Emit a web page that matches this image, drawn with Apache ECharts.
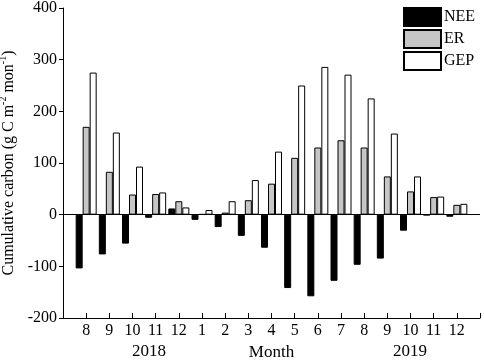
<!DOCTYPE html>
<html>
<head>
<meta charset="utf-8">
<script src="https://cdn.jsdelivr.net/npm/echarts@6/dist/echarts.min.js"></script>
<style>
  html, body { margin: 0; padding: 0; background: #fff; }
  #chart { width: 484px; height: 364px; }
</style>
</head>
<body>
<div id="chart"></div>
<script>
// months Aug 2018 .. Dec 2019, padded with empty slots at both ends
const months = ['8', '9', '10', '11', '12', '1', '2', '3', '4', '5', '6', '7', '8', '9', '10', '11', '12']
const nee = [-104, -77, -56, -6, 12, -10, -24, -41, -64, -142, -158, -128, -97, -85, -31, -1, -4]
const er = [170, 83, 39, 40, 26, 1, 4, 28, 60, 110, 130, 144, 130, 74, 45, 34, 19]
const gep = [275, 159, 93, 43, 14, 9, 26, 67, 122, 250, 286, 271, 225, 157, 74, 35, 21]
const yTicks = [-200, -100, 0, 100, 200, 300, 400]

const font = 'Liberation Serif'
const pad = arr => [null, ...arr, null]

const chart = echarts.init(document.getElementById('chart'))
const option = {
  backgroundColor: '#fff',
  animation: false,
  textStyle: { fontFamily: font },
  grid: { left: 63, right: 4, top: 8, bottom: 46, containLabel: false, outerBoundsMode: 'none' },
  legend: {
    orient: 'vertical',
    left: 398,
    top: 2,
    icon: 'rect',
    itemWidth: 37,
    itemHeight: 18,
    itemGap: 2,
    textStyle: { fontFamily: font, fontSize: 16, color: '#000', padding: [0, 0, 0, -2] },
    data: ['NEE', 'ER', 'GEP']
  },
  xAxis: {
    type: 'category',
    boundaryGap: false,
    data: ['', ...months, ''],
    name: 'Month',
    nameLocation: 'middle',
    nameGap: 25,
    nameTextStyle: { fontFamily: font, fontSize: 17, color: '#000', verticalAlign: 'top' },
    axisLine: { onZero: false, lineStyle: { color: '#000', width: 1 } },
    axisTick: {
      inside: true,
      length: 5,
      interval: (i) => i > 0,
      lineStyle: { color: '#000' }
    },
    axisLabel: { interval: 0, margin: 5, fontFamily: font, fontSize: 16, color: '#000' },
    splitLine: { show: false }
  },
  yAxis: {
    type: 'value',
    min: yTicks[0],
    max: yTicks[yTicks.length - 1],
    interval: 100,
    name: '{a|Cumulative carbon (g C m}{s|-2}{a| mon}{s|-1}{a|)}',
    nameLocation: 'middle',
    nameRotate: 90,
    nameGap: 45,
    nameTextStyle: {
      rich: {
        a: { fontFamily: font, fontSize: 16, color: '#000', verticalAlign: 'bottom', lineHeight: 18 },
        s: { fontFamily: font, fontSize: 10, color: '#000', verticalAlign: 'top', lineHeight: 18 }
      }
    },
    axisLine: { show: true, lineStyle: { color: '#000', width: 1 } },
    axisTick: { show: true, inside: false, length: 4, lineStyle: { color: '#000' } },
    axisLabel: { margin: 6, fontFamily: font, fontSize: 16, color: '#000' },
    splitLine: { show: false }
  },
  graphic: [
    { type: 'text', left: 132, top: 343, style: { text: '2018', font: '17px "Liberation Serif"', fill: '#000' } },
    { type: 'text', left: 393, top: 343, style: { text: '2019', font: '17px "Liberation Serif"', fill: '#000' } }
  ],
  series: [
    {
      name: 'NEE',
      type: 'bar',
      barWidth: 7,
      barGap: '0%',
      itemStyle: { color: '#000', borderColor: '#000', borderWidth: 1 },
      data: pad(nee),
      markLine: {
        silent: true,
        symbol: 'none',
        label: { show: false },
        lineStyle: { color: '#000', width: 1, type: 'solid' },
        data: [{ yAxis: 0 }]
      }
    },
    {
      name: 'ER',
      type: 'bar',
      barWidth: 7,
      barGap: '0%',
      itemStyle: { color: '#c6c6c6', borderColor: '#000', borderWidth: 1 },
      data: pad(er)
    },
    {
      name: 'GEP',
      type: 'bar',
      barWidth: 7,
      barGap: '0%',
      itemStyle: { color: '#fff', borderColor: '#000', borderWidth: 1 },
      data: pad(gep)
    }
  ]
}
chart.setOption(option)
</script>
</body>
</html>
